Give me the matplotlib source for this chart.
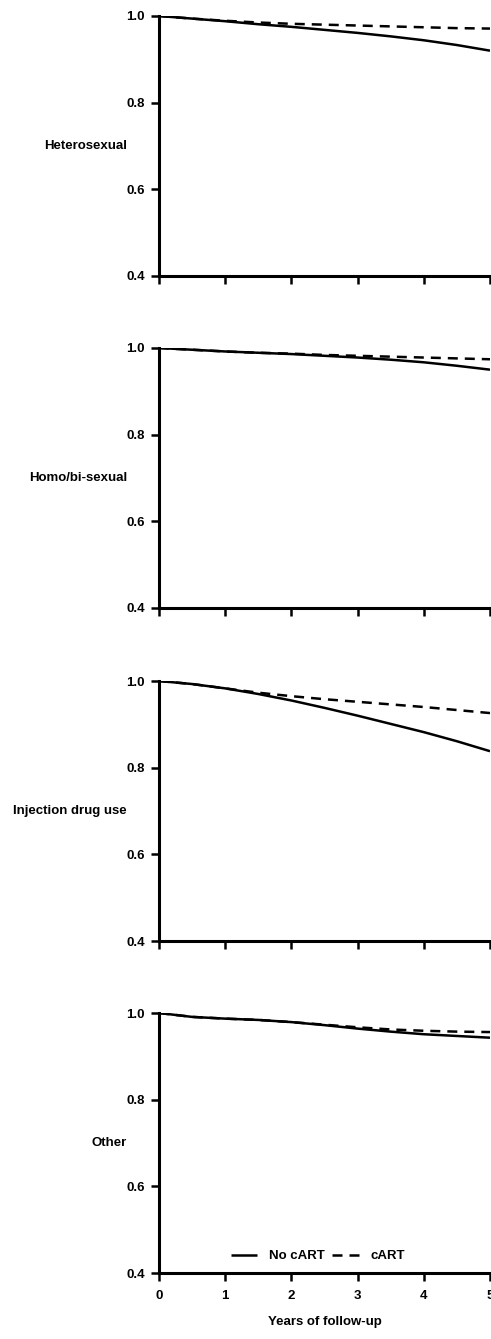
import numpy as np
import matplotlib
matplotlib.use('Agg')
import matplotlib.pyplot as plt

# =========== DATA =========================
years = [0, 0.5, 1, 1.5, 2, 2.5, 3, 3.5, 4, 4.5, 5]

groups = ['Heterosexual', 'Homo/bi-sexual', 'Injection drug use', 'Other']

no_cart_het = [1.0, 0.994, 0.988, 0.981, 0.975, 0.968, 0.961, 0.953, 0.944, 0.933, 0.920]
cart_het    = [1.0, 0.994, 0.989, 0.985, 0.982, 0.980, 0.978, 0.976, 0.974, 0.972, 0.971]

no_cart_homo = [1.0, 0.996, 0.992, 0.989, 0.986, 0.982, 0.978, 0.973, 0.967, 0.959, 0.950]
cart_homo    = [1.0, 0.996, 0.992, 0.989, 0.987, 0.984, 0.982, 0.980, 0.978, 0.976, 0.974]

no_cart_idu = [1.0, 0.993, 0.983, 0.970, 0.955, 0.938, 0.920, 0.901, 0.882, 0.861, 0.838]
cart_idu    = [1.0, 0.993, 0.983, 0.973, 0.965, 0.958, 0.952, 0.946, 0.940, 0.933, 0.926]

no_cart_oth = [1.0, 0.991, 0.987, 0.984, 0.979, 0.972, 0.964, 0.957, 0.951, 0.947, 0.943]
cart_oth    = [1.0, 0.991, 0.987, 0.984, 0.979, 0.973, 0.967, 0.962, 0.959, 0.957, 0.956]

no_cart = [no_cart_het, no_cart_homo, no_cart_idu, no_cart_oth]
cart = [cart_het, cart_homo, cart_idu, cart_oth]

xticks = [0, 1, 2, 3, 4, 5]
yticks = [0.4, 0.6, 0.8, 1.0]

# =========== PLOT =========================
plt.rcParams['font.family'] = ['Liberation Sans', 'DejaVu Sans']
plt.rcParams['font.weight'] = 'bold'
FS = 9.5

W, H = 491, 1339
fig = plt.figure(figsize=(W/100, H/100), dpi=100)

tops = [16, 348, 681, 1013]   # pixel rows of y=1.0
ax_h = 260
left_px, right_px = 159, 490

for i, g in enumerate(groups):
    bottom = 1 - (tops[i] + ax_h) / H
    ax = fig.add_axes([left_px/W, bottom, (right_px-left_px)/W, ax_h/H])
    ax.plot(years, no_cart[i], color='black', lw=1.8, label='No cART', solid_capstyle='butt')
    ax.plot(years, cart[i], color='black', lw=1.8, linestyle=(0, (4.0, 2.8)), label='cART')
    ax.set_xlim(0, 5)
    ax.set_ylim(0.4, 1.0)
    ax.set_xticks(xticks)
    ax.set_yticks(yticks)
    ax.set_yticklabels(['%.1f' % v for v in yticks])
    for s in ['top', 'right']:
        ax.spines[s].set_visible(False)
    for s in ['left', 'bottom']:
        ax.spines[s].set_linewidth(2.2)
    ax.tick_params(direction='out', length=6, width=1.8, pad=4, labelsize=FS, colors='black')
    ax.set_ylabel(g, rotation=0, ha='right', va='center', fontsize=FS, fontweight='bold')
    ax.yaxis.set_label_coords(-(left_px-127)/(right_px-left_px), 0.5)
    if i < 3:
        ax.set_xticklabels([])
    else:
        ax.tick_params(axis='x', pad=6)
        ax.set_xlabel('Years of follow-up', fontsize=FS, fontweight='bold', labelpad=10)
        ax.legend(loc='center', bbox_to_anchor=(0.48, 0.065), ncol=2, frameon=False,
                  handlelength=2.0, handletextpad=0.9, columnspacing=0.6,
                  prop={'weight': 'bold', 'size': FS})

fig.savefig('out.png', dpi=100)
